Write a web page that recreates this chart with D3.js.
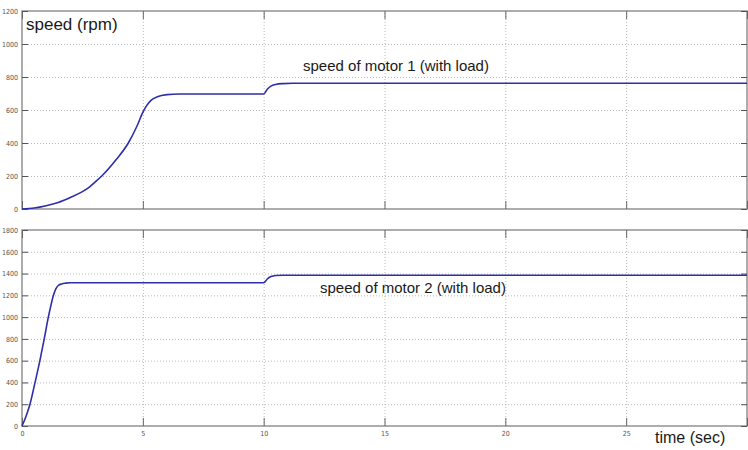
<!DOCTYPE html>
<html>
<head>
<meta charset="utf-8">
<script src="https://cdn.jsdelivr.net/npm/d3@7"></script>
<style>
  body { margin: 0; background: #fff; }
  svg { display: block; }
  .tick text { font-family: "DejaVu Sans Condensed", "Liberation Sans", sans-serif; font-size: 7px; fill: #555; }
  .grid line { stroke: #b8b8b8; stroke-dasharray: 1,2; }
  .grid path { display: none; }
  .label { font-family: "Liberation Sans", Arial, sans-serif; fill: #1a1a1a; }
</style>
</head>
<body>
<div id="d3-container"></div>
<script>
/**
 * CONSTANTS AND GLOBALS
 * */
const width = 748,
  height = 450,
  left = 22,
  right = 747;

// two stacked panels (top: motor 1, bottom: motor 2)
const panels = [
  { top: 11, bottom: 209 },
  { top: 230, bottom: 426 }
];

/**
 * DATA
 * */
const timeTicks = [0, 5, 10, 15, 20, 25, 30];
const timeLabels = ["0", "5", "10", "15", "20", "25", ""];
const speedTicks1 = [0, 200, 400, 600, 800, 1000, 1200];
const speedTicks2 = [0, 200, 400, 600, 800, 1000, 1200, 1400, 1600, 1800];

const motor1Time = [0, 0.5, 1, 1.5, 2, 2.5, 2.8, 3.0, 3.3, 3.9, 4.4, 4.75, 5.0, 5.15, 5.35, 5.6, 6.0, 6.5, 7, 10, 10.15, 10.3, 10.5, 10.8, 11.2, 30];
const motor1Speed = [0, 6, 20, 40, 70, 105, 134, 160, 200, 300, 400, 500, 585, 625, 660, 680, 693, 697, 697, 697, 726, 745, 755, 760, 762, 762];

const motor2Time = [0, 0.1, 0.2, 0.33, 0.54, 0.74, 0.92, 1.09, 1.2, 1.3, 1.4, 1.5, 1.64, 1.8, 2, 10, 10.15, 10.3, 10.5, 10.8, 30];
const motor2Speed = [0, 50, 110, 200, 400, 600, 800, 1000, 1110, 1200, 1260, 1290, 1305, 1312, 1315, 1315, 1350, 1372, 1382, 1385, 1385];

let svg;

/**
 * INITIALIZING FUNCTION
 * */
function init() {
  svg = d3.select("#d3-container")
    .append("svg")
    .attr("width", width)
    .attr("height", height);

  const x = d3.scaleLinear().domain([0, 30]).range([left, right]);

  const series = [
    { ticks: speedTicks1, max: 1200, t: motor1Time, v: motor1Speed, showX: false },
    { ticks: speedTicks2, max: 1800, t: motor2Time, v: motor2Speed, showX: true }
  ];

  series.forEach((s, i) => {
    const p = panels[i];
    const y = d3.scaleLinear().domain([0, s.max]).range([p.bottom, p.top]);
    const g = svg.append("g");

    // dotted grid
    g.append("g")
      .attr("class", "grid")
      .attr("transform", `translate(${left},0)`)
      .call(d3.axisLeft(y).tickValues(s.ticks.slice(1, -1)).tickSize(-(right - left)).tickFormat(""));
    g.append("g")
      .attr("class", "grid")
      .attr("transform", `translate(0,${p.bottom})`)
      .call(d3.axisBottom(x).tickValues(timeTicks.slice(1, -1)).tickSize(-(p.bottom - p.top)).tickFormat(""));

    // frame
    g.append("rect")
      .attr("x", left)
      .attr("y", p.top)
      .attr("width", right - left)
      .attr("height", p.bottom - p.top)
      .attr("fill", "none")
      .attr("stroke", "#8a8a8a")
      .attr("stroke-width", 1.4);

    // y axis, ticks pointing inward
    const yAxis = g.append("g")
      .attr("transform", `translate(${left},0)`)
      .call(d3.axisLeft(y).tickValues(s.ticks).tickSize(-6).tickPadding(4).tickFormat(d3.format("d")));
    yAxis.select(".domain").remove();
    yAxis.selectAll("line").attr("stroke", "#555");

    g.append("g")
      .attr("transform", `translate(${right},0)`)
      .call(d3.axisRight(y).tickValues(s.ticks).tickSize(-6).tickFormat(""))
      .call(a => a.select(".domain").remove())
      .selectAll("line").attr("stroke", "#555");

    // x axis bottom and top, ticks inward
    const xAxis = g.append("g")
      .attr("transform", `translate(0,${p.bottom})`)
      .call(d3.axisBottom(x).tickValues(timeTicks).tickSize(-8).tickPadding(5)
        .tickFormat((d, k) => s.showX ? timeLabels[k] : ""));
    xAxis.select(".domain").remove();
    xAxis.selectAll("line").attr("stroke", "#666");

    g.append("g")
      .attr("transform", `translate(0,${p.top})`)
      .call(d3.axisTop(x).tickValues(timeTicks).tickSize(-8).tickFormat(""))
      .call(a => a.select(".domain").remove())
      .selectAll("line").attr("stroke", "#666");

    // speed curve
    const line = d3.line()
      .x((d, k) => x(s.t[k]))
      .y(d => y(d))
      .curve(d3.curveMonotoneX);

    g.append("path")
      .datum(s.v)
      .attr("d", line)
      .attr("fill", "none")
      .attr("stroke", "#2e2ea8")
      .attr("stroke-width", 1.6);
  });

  // labels
  svg.append("text").attr("class", "label")
    .attr("x", 26).attr("y", 30)
    .style("font-size", "17px")
    .text("speed (rpm)");

  svg.append("text").attr("class", "label")
    .attr("x", 303).attr("y", 71)
    .style("font-size", "15px")
    .text("speed of motor 1 (with load)");

  svg.append("text").attr("class", "label")
    .attr("x", 320).attr("y", 293)
    .style("font-size", "15px")
    .text("speed of motor 2 (with load)");

  svg.append("text").attr("class", "label")
    .attr("x", 655).attr("y", 443)
    .style("font-size", "16px")
    .text("time (sec)");
}

init();
</script>
</body>
</html>
